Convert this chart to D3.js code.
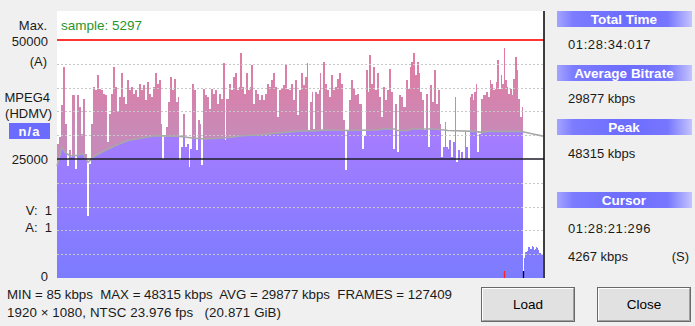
<!DOCTYPE html>
<html>
<head>
<meta charset="utf-8">
<script src="https://cdn.jsdelivr.net/npm/d3@7"></script>
<style>
  html, body { margin: 0; padding: 0; background: #f0f0f0; }
  svg { display: block; font-family: "Liberation Sans", Arial, sans-serif; }
  text { white-space: pre; }
</style>
</head>
<body>
<svg id="chart" width="695" height="326"></svg>
<script>
// sample index and bitrate (kbps), main part up to the cursor
const samples = [4831, 4833, 4835, 4837, 4839, 4841, 4843, 4845, 4846, 4849, 4851, 4853, 4855, 4857, 4859, 4861, 4863, 4865, 4867, 4869,
  4871, 4873, 4875, 4877, 4879, 4881, 4883, 4885, 4887, 4889, 4891, 4893, 4895, 4897, 4899, 4901, 4903, 4905, 4907, 4909,
  4911, 4913, 4915, 4917, 4919, 4921, 4923, 4925, 4927, 4929, 4931, 4933, 4935, 4936, 4938, 4940, 4942, 4944, 4946, 4948,
  4950, 4952, 4953, 4955, 4957, 4959, 4961, 4963, 4964, 4966, 4968, 4970, 4972, 4974, 4975, 4977, 4979, 4981, 4983, 4985,
  4987, 4989, 4991, 4993, 4995, 4997, 4999, 5000, 5003, 5005, 5007, 5009, 5011, 5013, 5014, 5016, 5018, 5020, 5022, 5024,
  5025, 5027, 5029, 5031, 5033, 5035, 5037, 5039, 5041, 5043, 5045, 5047, 5049, 5051, 5053, 5055, 5057, 5059, 5061, 5063,
  5065, 5067, 5069, 5071, 5073, 5075, 5077, 5079, 5081, 5082, 5084, 5086, 5087, 5089, 5091, 5093, 5094, 5095, 5097, 5099,
  5101, 5103, 5105, 5107, 5109, 5111, 5113, 5115, 5117, 5119, 5121, 5123, 5125, 5127, 5129, 5131, 5133, 5135, 5136, 5138,
  5140, 5142, 5143, 5145, 5147, 5149, 5151, 5153, 5155, 5157, 5159, 5161, 5163, 5165, 5167, 5169, 5171, 5173, 5175, 5177,
  5180, 5182, 5184, 5185, 5187, 5189, 5191, 5193, 5194, 5196, 5198, 5200, 5202, 5204, 5206, 5208, 5210, 5212, 5214, 5215,
  5217, 5219, 5220, 5222, 5223, 5225, 5227, 5229, 5230, 5232, 5234, 5235, 5237, 5239, 5240, 5242, 5244, 5245, 5247, 5248,
  5250, 5251, 5253, 5255, 5257, 5259, 5260, 5262, 5264, 5265, 5267, 5269, 5270, 5271, 5273, 5275, 5276, 5278, 5279, 5281,
  5282, 5284, 5286, 5287, 5289, 5291, 5292, 5294, 5296]
const kbps = [28200, 29600, 36300, 44400, 32400, 23600, 26800, 25400, 38400, 22900, 38500, 35900, 30300, 37700, 26100, 13000, 24000, 32400, 40100, 39400,
  42600, 39800, 39400, 38700, 38400, 28500, 34500, 38700, 44400, 40100, 34900, 38000, 43000, 38000, 36600, 41600, 39400, 40100, 38700, 39400,
  38000, 40800, 39400, 40500, 37300, 41200, 38700, 38000, 40100, 43000, 40800, 41600, 32400, 25000, 29600, 31700, 37000, 42300, 39400, 41900,
  37000, 38000, 24700, 27500, 34500, 27500, 28200, 23400, 27100, 40800, 39400, 26800, 33100, 32400, 23800, 39800, 38400, 38000, 35600, 39800,
  38700, 39400, 36600, 38700, 37700, 45200, 29000, 37700, 40800, 39400, 42300, 43000, 39400, 40100, 47300, 40100, 38700, 43100, 39400, 40100,
  44700, 36600, 39400, 38700, 37300, 38400, 37300, 38700, 40800, 40100, 41600, 43100, 40100, 33800, 39400, 39800, 40500, 44900, 39800, 39400,
  40800, 37300, 41600, 34200, 39400, 43000, 40500, 42300, 45100, 31000, 37000, 39100, 31300, 39100, 38700, 39400, 43000, 31000, 45400, 40800,
  39400, 38000, 42600, 39400, 40100, 41900, 43000, 40800, 33100, 22700, 31000, 37300, 41600, 39800, 38400, 38700, 36600, 36600, 27100, 29900,
  43700, 39100, 46800, 40800, 44400, 39400, 43000, 38000, 33800, 40100, 37300, 39400, 44000, 39100, 27100, 36600, 26400, 38400, 38000, 35900,
  41600, 39800, 44400, 45400, 47200, 42600, 45400, 43000, 39100, 37300, 31000, 38700, 27600, 40500, 37000, 43700, 36600, 39400, 32400, 25500,
  27500, 32800, 27500, 27100, 28900, 25400, 28500, 38000, 24300, 26800, 24700, 26400, 25000, 30600, 27500, 25000, 38000, 38700, 37300, 39100,
  40800, 26400, 30300, 37700, 38400, 38400, 39100, 38000, 41600, 40800, 39400, 39800, 41200, 45800, 39800, 42600, 40800, 48315, 41600, 40100,
  38700, 39800, 38400, 41900, 46500, 43700, 37700, 33800, 35900]
const mainEnd = 5297

// low bitrate tail after the cursor
const tailSamples = [5298, 5299, 5300, 5301, 5302, 5303, 5304, 5305, 5306, 5307, 5308, 5309, 5310, 5311, 5312, 5313, 5314, 5315, 5316]
const tailKbps = [4267, 5500, 5500, 5700, 6450, 6450, 6030, 6100, 6720, 6500, 5800, 6000, 6450, 6300, 5900, 5300, 5300, 5040, 4830]
const tailEnd = 5317

// moving average line
const avgSamples = [4831, 4836, 4839, 4844, 4849, 4857, 4862, 4869, 4879, 4889, 4902, 4916, 4926, 4932, 4942, 4952, 4966, 4979, 4996, 5006,
  5016, 5036, 5049, 5059, 5074, 5089, 5096, 5119, 5152, 5157, 5169, 5171, 5182, 5186, 5209, 5222, 5249, 5256, 5262, 5296,
  5299, 5306, 5317]
const avgKbps = [23500, 27500, 26400, 25700, 25700, 26100, 24300, 25700, 26800, 27800, 28900, 29400, 29800, 29900, 29800, 29800, 29400, 29200, 29400, 29600,
  29900, 30100, 30400, 30600, 30900, 30900, 31100, 31000, 31100, 31300, 31300, 31000, 31000, 31300, 31300, 31000, 30800, 30600, 30800, 30800,
  30600, 30300, 29800]

const peakSample = 5278
const cursorSample = 5297
const maxLine = 50000
const midLine = 25000
const gridValues = [5000, 10000, 15000, 20000, 30000, 35000, 40000, 45000]

const leftLabels = ['Max.', '50000', '(A)', 'MPEG4', '(HDMV)', '25000', 'V:  1', 'A:  1', '0']
const infoHeaders = ['Total Time', 'Average Bitrate', 'Peak', 'Cursor']
const infoValues = ['01:28:34:017', '29877 kbps', '48315 kbps', '01:28:21:296']
const cursorRate = '4267 kbps'
const sampleLabel = 'sample: 5297'
const summaryLines = ['MIN = 85 kbps  MAX = 48315 kbps  AVG = 29877 kbps  FRAMES = 127409',
  '1920 × 1080, NTSC 23.976 fps   (20.871 GiB)']
const buttons = ['Load', 'Close']

const svg = d3.select('#chart')
const plot = { left: 57, right: 544, top: 11, bottom: 278 }

const x = d3.scaleLinear().domain([4831, 5318]).range([plot.left, plot.right])
const y = d3.scaleLinear().domain([0, 50000]).range([plot.bottom, 40])

// gradients
const defs = svg.append('defs')
function gradient (id, stops, x1, y1, x2, y2, user) {
  const g = defs.append('linearGradient').attr('id', id)
    .attr('x1', x1).attr('y1', y1).attr('x2', x2).attr('y2', y2)
  if (user) g.attr('gradientUnits', 'userSpaceOnUse')
  stops.forEach(s => g.append('stop').attr('offset', s[0]).attr('stop-color', s[1]))
}
gradient('pink', [[0, '#e8789c'], [1, '#c88ab8']], 0, y(50000), 0, y(30000), true)
gradient('purple', [[0, '#a67cff'], [1, '#7c7cff']], 0, y(31000), 0, y(0), true)
gradient('head', [[0, '#a4a4ff'], [0.12, '#7c7cff'], [0.5, '#6c6cff'], [0.82, '#7676ff'], [1, '#c4c4ff']], 0, 0, 1, 0, false)

// clip for the part under the average line
const avgData = avgSamples.map((s, i) => ({ s, v: avgKbps[i] }))
defs.append('clipPath').attr('id', 'underAvg')
  .append('path')
  .attr('d', d3.area().x(d => x(d.s)).y0(y(0)).y1(d => y(d.v))(avgData))

// plot background
svg.append('rect')
  .attr('x', plot.left).attr('y', plot.top)
  .attr('width', plot.right - plot.left).attr('height', plot.bottom - plot.top)
  .attr('fill', '#ffffff')

const bars = samples.map((s, i) => ({ s, v: kbps[i], e: i < samples.length - 1 ? samples[i + 1] : mainEnd }))
  .concat(tailSamples.map((s, i) => ({ s, v: tailKbps[i], e: i < tailSamples.length - 1 ? tailSamples[i + 1] : tailEnd })))

function drawBars (fill, clip) {
  const g = svg.append('g')
  if (clip) g.attr('clip-path', 'url(#underAvg)')
  g.selectAll('rect')
    .data(bars)
    .enter()
    .append('rect')
    .attr('x', d => x(d.s))
    .attr('width', d => x(d.e) - x(d.s))
    .attr('y', d => y(d.v))
    .attr('height', d => y(0) - y(d.v))
    .attr('fill', fill)
    .attr('shape-rendering', 'crispEdges')
}
drawBars('url(#pink)', false)
drawBars('url(#purple)', true)

// dotted grid on top of the bars
svg.append('g').selectAll('line')
  .data(gridValues)
  .enter()
  .append('line')
  .attr('x1', plot.left).attr('x2', plot.right)
  .attr('y1', d => Math.round(y(d)) + 0.5).attr('y2', d => Math.round(y(d)) + 0.5)
  .attr('stroke', '#c8c8c8')
  .attr('stroke-dasharray', '2,2')

// average line
svg.append('path')
  .datum(avgData)
  .attr('d', d3.line().x(d => x(d.s)).y(d => y(d.v)))
  .attr('fill', 'none')
  .attr('stroke', '#a8a8a8')
  .attr('stroke-width', 1.6)

// reference lines
svg.append('line')
  .attr('x1', plot.left).attr('x2', plot.right)
  .attr('y1', y(maxLine)).attr('y2', y(maxLine))
  .attr('stroke', '#ff3434').attr('stroke-width', 2)
svg.append('line')
  .attr('x1', plot.left).attr('x2', plot.right)
  .attr('y1', y(midLine)).attr('y2', y(midLine))
  .attr('stroke', '#1e1e2a').attr('stroke-width', 1.6)
svg.append('line')
  .attr('x1', plot.right).attr('x2', plot.right)
  .attr('y1', plot.top).attr('y2', plot.bottom)
  .attr('stroke', '#000').attr('stroke-width', 1.5)

// peak and cursor markers
svg.append('line')
  .attr('x1', x(peakSample) + 0.5).attr('x2', x(peakSample) + 0.5)
  .attr('y1', y(0) - 7).attr('y2', y(0))
  .attr('stroke', '#ff2020').attr('stroke-width', 1.3)
svg.append('line')
  .attr('x1', x(cursorSample) + 0.5).attr('x2', x(cursorSample) + 0.5)
  .attr('y1', y(0) - 7).attr('y2', y(0))
  .attr('stroke', '#000').attr('stroke-width', 1.3)

svg.append('text')
  .attr('x', 61).attr('y', 30)
  .attr('font-size', 13.5)
  .attr('fill', '#2a962a')
  .text(sampleLabel)

// left labels
const leftY = [30, 46, 66, 102, 118, 164, 215, 232, 281]
const leftX = [47, 48, 47, 50, 52, 48, 52, 52, 48]
svg.append('g').selectAll('text')
  .data(leftLabels)
  .enter()
  .append('text')
  .attr('x', (d, i) => leftX[i])
  .attr('y', (d, i) => leftY[i])
  .attr('text-anchor', 'end')
  .attr('font-size', 13)
  .attr('fill', '#1a1a1a')
  .text(d => d)

svg.append('rect')
  .attr('x', 9).attr('y', 123).attr('width', 41).attr('height', 16)
  .attr('fill', '#6b6bff')
svg.append('text')
  .attr('x', 29.5).attr('y', 135.5)
  .attr('text-anchor', 'middle')
  .attr('font-size', 13).attr('font-weight', 'bold')
  .attr('letter-spacing', 1)
  .attr('fill', '#fff')
  .text('n/a')

// info panel on the right
const headY = [11, 65, 119, 192]
const valueY = [49, 103, 158, 233]
infoHeaders.forEach((h, i) => {
  svg.append('rect')
    .attr('x', 557).attr('y', headY[i]).attr('width', 135).attr('height', 16)
    .attr('fill', 'url(#head)')
  svg.append('text')
    .attr('x', 624).attr('y', headY[i] + 12.5)
    .attr('text-anchor', 'middle')
    .attr('font-size', 13.5).attr('font-weight', 'bold')
    .attr('fill', '#fff')
    .text(h)
  svg.append('text')
    .attr('x', 568).attr('y', valueY[i])
    .attr('font-size', 13)
    .attr('letter-spacing', h.includes('Time') || h === 'Cursor' ? 0.6 : 0)
    .attr('fill', '#1a1a1a')
    .text(infoValues[i])
})
svg.append('text')
  .attr('x', 568).attr('y', 261)
  .attr('font-size', 13).attr('fill', '#1a1a1a')
  .text(cursorRate)
svg.append('text')
  .attr('x', 689).attr('y', 261)
  .attr('text-anchor', 'end')
  .attr('font-size', 13).attr('fill', '#1a1a1a')
  .text('(S)')

// summary lines under the plot, stretched to the widths in the picture
const summaryWidth = [445, 274]
svg.append('g').selectAll('text')
  .data(summaryLines)
  .enter()
  .append('text')
  .attr('x', 7)
  .attr('y', (d, i) => 299 + i * 18)
  .attr('font-size', 13.3)
  .attr('textLength', (d, i) => summaryWidth[i])
  .attr('lengthAdjust', 'spacing')
  .attr('fill', '#1a1a1a')
  .text(d => d)

// buttons
const btnX = [481, 597]
buttons.forEach((b, i) => {
  const g = svg.append('g').attr('transform', `translate(${btnX[i]},287)`)
  g.append('rect').attr('x', 0.5).attr('y', 0.5).attr('width', 93).attr('height', 34)
    .attr('fill', '#e1e1e1').attr('stroke', '#696969')
  g.append('path').attr('d', 'M1.5,33.5 V1.5 H92.5')
    .attr('fill', 'none').attr('stroke', '#ffffff')
  g.append('path').attr('d', 'M1.5,33.5 H92.5 V1.5')
    .attr('fill', 'none').attr('stroke', '#a0a0a0')
  g.append('text')
    .attr('x', 47).attr('y', 22)
    .attr('text-anchor', 'middle')
    .attr('font-size', 13.5).attr('fill', '#000')
    .text(b)
})
</script>
</body>
</html>
